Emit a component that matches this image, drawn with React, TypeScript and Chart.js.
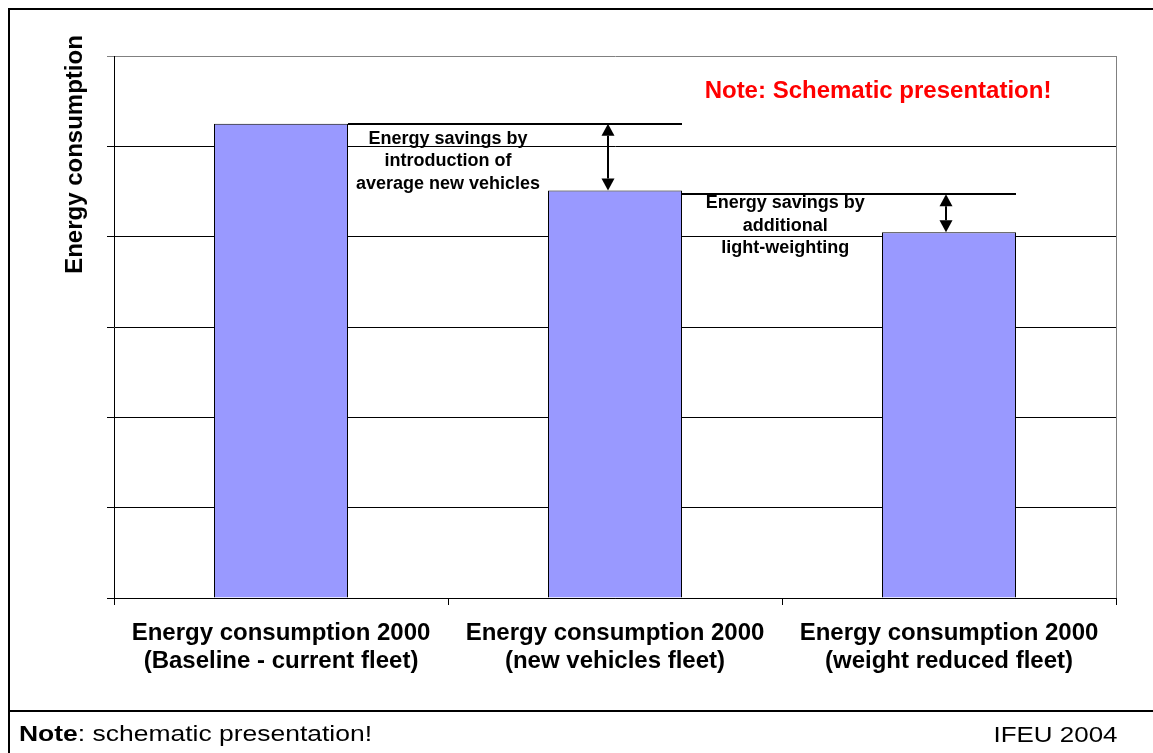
import React, { useEffect, useRef } from "react";
import { Chart, registerables } from "chart.js";

Chart.register(...registerables);

// ---- data ----
const categories: string[][] = [
  ["Energy consumption 2000", "(Baseline - current fleet)"],
  ["Energy consumption 2000", "(new vehicles fleet)"],
  ["Energy consumption 2000", "(weight reduced fleet)"],
];
const energyValues: number[] = [5.25, 4.51, 4.05];
const yMin = 0;
const yMax = 6;
const yStep = 1;

// savings reference levels (value units) and the bars they span
const savingsLevels: number[] = [5.25, 4.47];
const savingsFrom: number[] = [0, 1];
const savingsTo: number[] = [1, 2];
// arrows: category position and value range
const arrowCategoryPos: number[] = [0.98, 1.99];
const arrowTop: number[] = [5.25, 4.47];
const arrowBottom: number[] = [4.51, 4.05];
// savings texts
const savingsTextPos: number[] = [0.5, 1.51];
const savingsTextValue: number[] = [5.03, 4.314];
const savingsTexts: string[][] = [
  ["Energy savings by", "introduction of", "average new vehicles"],
  ["Energy savings by", "additional", "light-weighting"],
];

const yTitle = "Energy consumption";
const noteText = "Note: Schematic presentation!";
const footerBold = "Note";
const footerRest = ": schematic presentation!";
const footerRight = "IFEU 2004";

const FONT = "'Liberation Sans', Arial, Helvetica, sans-serif";

const decorPlugin = {
  id: "decor",
  afterDraw(chart: any) {
    const ctx: CanvasRenderingContext2D = chart.ctx;
    const xs = chart.scales.x;
    const ys = chart.scales.y;
    const area = chart.chartArea;
    const W = chart.width;
    const H = chart.height;
    ctx.save();

    // outer frame
    ctx.fillStyle = "#000";
    ctx.fillRect(8, 8, W - 8, 2);
    ctx.fillRect(8, 8, 2, H - 8);
    ctx.fillRect(8, 710, W - 8, 2);

    // plot area right border
    ctx.strokeStyle = "#808080";
    ctx.lineWidth = 1;
    ctx.beginPath();
    ctx.moveTo(Math.round(area.right) + 0.5, area.top);
    ctx.lineTo(Math.round(area.right) + 0.5, area.bottom);
    ctx.stroke();

    const meta = chart.getDatasetMeta(0);
    const barRight = (i: number) => {
      const el = meta.data[i];
      return el.x + el.width / 2;
    };

    // savings level lines
    ctx.strokeStyle = "#000";
    ctx.lineWidth = 2;
    savingsLevels.forEach((v, k) => {
      const y = Math.round(ys.getPixelForValue(v));
      ctx.beginPath();
      ctx.moveTo(barRight(savingsFrom[k]), y);
      ctx.lineTo(barRight(savingsTo[k]), y);
      ctx.stroke();
    });

    // arrows
    arrowCategoryPos.forEach((p, k) => {
      const x = Math.round(xs.getPixelForValue(p));
      const y1 = ys.getPixelForValue(arrowTop[k]);
      const y2 = ys.getPixelForValue(arrowBottom[k]);
      const hl = 12;
      const hw = 6.5;
      ctx.fillStyle = "#000";
      ctx.strokeStyle = "#000";
      ctx.lineWidth = 2;
      ctx.beginPath();
      ctx.moveTo(x, y1 + hl);
      ctx.lineTo(x, y2 - hl);
      ctx.stroke();
      ctx.beginPath();
      ctx.moveTo(x, y1);
      ctx.lineTo(x - hw, y1 + hl);
      ctx.lineTo(x + hw, y1 + hl);
      ctx.closePath();
      ctx.fill();
      ctx.beginPath();
      ctx.moveTo(x, y2);
      ctx.lineTo(x - hw, y2 - hl);
      ctx.lineTo(x + hw, y2 - hl);
      ctx.closePath();
      ctx.fill();
    });

    // savings texts
    ctx.fillStyle = "#000";
    ctx.font = `bold 18px ${FONT}`;
    ctx.textAlign = "center";
    ctx.textBaseline = "alphabetic";
    savingsTexts.forEach((lines, k) => {
      const x = xs.getPixelForValue(savingsTextPos[k]);
      const y = ys.getPixelForValue(savingsTextValue[k]);
      lines.forEach((t, i) => ctx.fillText(t, x, y + i * 22.5));
    });

    // red note
    ctx.fillStyle = "#FF0000";
    ctx.font = `bold 24px ${FONT}`;
    ctx.textAlign = "center";
    ctx.fillText(noteText, area.right - 238, area.top + 41.5);

    // y title
    ctx.save();
    ctx.fillStyle = "#000";
    ctx.font = `bold 24px ${FONT}`;
    ctx.translate(81.5, 154.5);
    ctx.rotate(-Math.PI / 2);
    ctx.textAlign = "center";
    ctx.fillText(yTitle, 0, 0);
    ctx.restore();

    // footer
    ctx.fillStyle = "#000";
    ctx.textAlign = "left";
    ctx.font = `bold 22px ${FONT}`;
    const wb = ctx.measureText(footerBold).width;
    ctx.font = `22px ${FONT}`;
    const wr = ctx.measureText(footerRest).width;
    const sx = 353 / (wb + wr);
    ctx.save();
    ctx.translate(19, 741);
    ctx.scale(sx, 1);
    ctx.font = `bold 22px ${FONT}`;
    ctx.fillText(footerBold, 0, 0);
    ctx.font = `22px ${FONT}`;
    ctx.fillText(footerRest, wb, 0);
    ctx.restore();

    ctx.font = `22px ${FONT}`;
    const wi = ctx.measureText(footerRight).width;
    const sx2 = 124 / wi;
    ctx.save();
    ctx.translate(993.5, 741.5);
    ctx.scale(sx2, 1);
    ctx.fillText(footerRight, 0, 0);
    ctx.restore();

    ctx.restore();
  },
};

export default function App() {
  const ref = useRef<HTMLCanvasElement | null>(null);
  useEffect(() => {
    if (!ref.current) return;
    const chart = new Chart(ref.current, {
      type: "bar",
      data: {
        labels: categories,
        datasets: [
          {
            data: energyValues,
            backgroundColor: "#9999FF",
            borderColor: "#000000",
            borderWidth: 1,
            barPercentage: 134 / 334,
            categoryPercentage: 1.0,
          },
        ],
      },
      options: {
        responsive: false,
        animation: false,
        devicePixelRatio: 1,
        layout: { padding: { left: 107, right: 37, top: 56, bottom: 0 } },
        plugins: {
          legend: { display: false },
          tooltip: { enabled: false },
          title: { display: false },
        },
        scales: {
          x: {
            offset: true,
            grid: {
              display: true,
              drawOnChartArea: false,
              drawTicks: true,
              tickLength: 7,
              color: "#000",
              offset: true,
            },
            border: { display: true, color: "#000", width: 1 },
            ticks: {
              color: "#000",
              font: { family: FONT, size: 24, weight: "bold", lineHeight: 1.15 },
              padding: 15,
              maxRotation: 0,
              autoSkip: false,
            },
            afterFit: (s: any) => {
              s.height = 155;
            },
          },
          y: {
            min: yMin,
            max: yMax,
            ticks: { display: false, stepSize: yStep },
            grid: {
              display: true,
              drawTicks: true,
              tickLength: 7,
              color: (c: any) =>
                c.tick && c.tick.value === yMax ? "#808080" : "#000",
            },
            border: { display: true, color: "#000", width: 1 },
          },
        },
      },
      plugins: [decorPlugin],
    });
    return () => chart.destroy();
  }, []);

  return (
    <div style={{ position: "fixed", left: 0, top: 0, width: 1153, height: 753, background: "#fff" }}>
      <canvas ref={ref} width={1153} height={753} style={{ display: "block", width: 1153, height: 753 }} />
    </div>
  );
}
